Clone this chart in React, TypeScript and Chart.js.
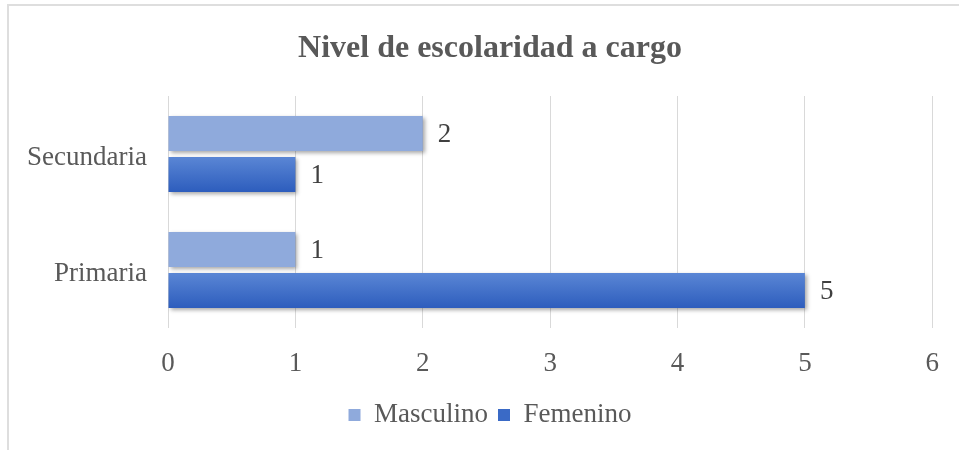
import React, { useEffect, useRef } from "react";
import { Chart, registerables } from "chart.js";

Chart.register(...registerables);

const categories = ["Secundaria", "Primaria"];
const masculino = [2, 1];
const femenino = [1, 5];
const seriesNames = ["Masculino", "Femenino"];
const xMax = 6;
const titleText = "Nivel de escolaridad a cargo";

const FONT = "'Liberation Serif', 'Times New Roman', serif";
const SIZE = 27;
const PAD_LEFT = 47;

const gradientPlugin = {
  id: "barGradient",
  beforeDatasetsDraw(chart: any) {
    const ctx = chart.ctx;
    const meta = chart.getDatasetMeta(1);
    meta.data.forEach((el: any) => {
      const top = el.y - el.height / 2;
      const bottom = el.y + el.height / 2;
      const g = ctx.createLinearGradient(0, top, 0, bottom);
      g.addColorStop(0, "#5a86d5");
      g.addColorStop(1, "#2d5dbd");
      el.options = Object.assign({}, el.options, { backgroundColor: g });
    });
    ctx.save();
    ctx.shadowColor = "rgba(0,0,0,0.35)";
    ctx.shadowBlur = 4;
    ctx.shadowOffsetX = 2;
    ctx.shadowOffsetY = 2;
  },
  afterDatasetsDraw(chart: any) {
    const ctx = chart.ctx;
    ctx.restore();
    ctx.save();
    ctx.font = `${SIZE}px ${FONT}`;
    ctx.fillStyle = "#404040";
    ctx.textAlign = "left";
    ctx.textBaseline = "middle";
    chart.data.datasets.forEach((ds: any, di: number) => {
      const meta = chart.getDatasetMeta(di);
      meta.data.forEach((el: any, i: number) => {
        ctx.fillText(String(ds.data[i]), el.x + 15, el.y + 1);
      });
    });
    ctx.restore();
  },
};

export default function App() {
  const ref = useRef<HTMLCanvasElement>(null);
  useEffect(() => {
    if (!ref.current) return;
    const chart = new Chart(ref.current, {
      type: "bar",
      data: {
        labels: categories,
        datasets: [
          {
            label: seriesNames[0],
            data: masculino,
            backgroundColor: "#8faadc",
            categoryPercentage: 0.707,
            barPercentage: 0.854,
          },
          {
            label: seriesNames[1],
            data: femenino,
            backgroundColor: () => "#3f6fc8",
            categoryPercentage: 0.707,
            barPercentage: 0.854,
          },
        ],
      },
      options: {
        indexAxis: "y",
        animation: false,
        responsive: false,
        maintainAspectRatio: false,
        layout: { padding: { left: PAD_LEFT, right: 26, top: 0, bottom: 11.5 } },
        scales: {
          x: {
            min: 0,
            max: xMax,
            ticks: {
              stepSize: 1,
              padding: 20,
              color: "#595959",
              font: { family: FONT, size: SIZE },
            },
            grid: { color: "#d9d9d9", lineWidth: 1, drawTicks: false },
            border: { display: false },
            afterFit(scale: any) {
              scale.height = 63.5;
            },
          },
          y: {
            ticks: {
              padding: 21,
              labelOffset: 4,
              color: "#595959",
              font: { family: FONT, size: SIZE },
            },
            grid: { display: false, drawTicks: false },
            border: { display: false },
            afterFit(scale: any) {
              scale.width = 168 - PAD_LEFT;
              scale._computeLabelArea = () => undefined;
            },
          },
        },
        plugins: {
          title: {
            display: true,
            text: titleText,
            color: "#595959",
            font: { family: FONT, size: 32, weight: "bold" },
            padding: { top: 30, bottom: 27.6 },
          },
          legend: {
            position: "bottom",
            labels: {
              color: "#595959",
              font: { family: FONT, size: SIZE },
              boxWidth: 12,
              boxHeight: 12,
              padding: 10,
              generateLabels(chart: any) {
                return chart.data.datasets.map((ds: any, i: number) => ({
                  text: ds.label,
                  fillStyle: i === 0 ? "#8faadc" : "#3a6ac6",
                  strokeStyle: "transparent",
                  lineWidth: 0,
                  datasetIndex: i,
                  fontColor: "#595959",
                }));
              },
            },
          },
          tooltip: { enabled: false },
        },
      },
      plugins: [gradientPlugin],
    });
    return () => chart.destroy();
  }, []);

  return (
    <div style={{ position: "fixed", left: 0, top: 0, width: 959, height: 450, background: "#fff", overflow: "hidden" }}>
      <div
        style={{
          position: "absolute",
          left: 7,
          top: 4,
          width: 1000,
          height: 1000,
          borderLeft: "2px solid #dedede",
          borderTop: "2px solid #dedede",
        }}
      />
      <canvas ref={ref} width={959} height={450} style={{ position: "absolute", left: 0, top: 0 }} />
    </div>
  );
}
